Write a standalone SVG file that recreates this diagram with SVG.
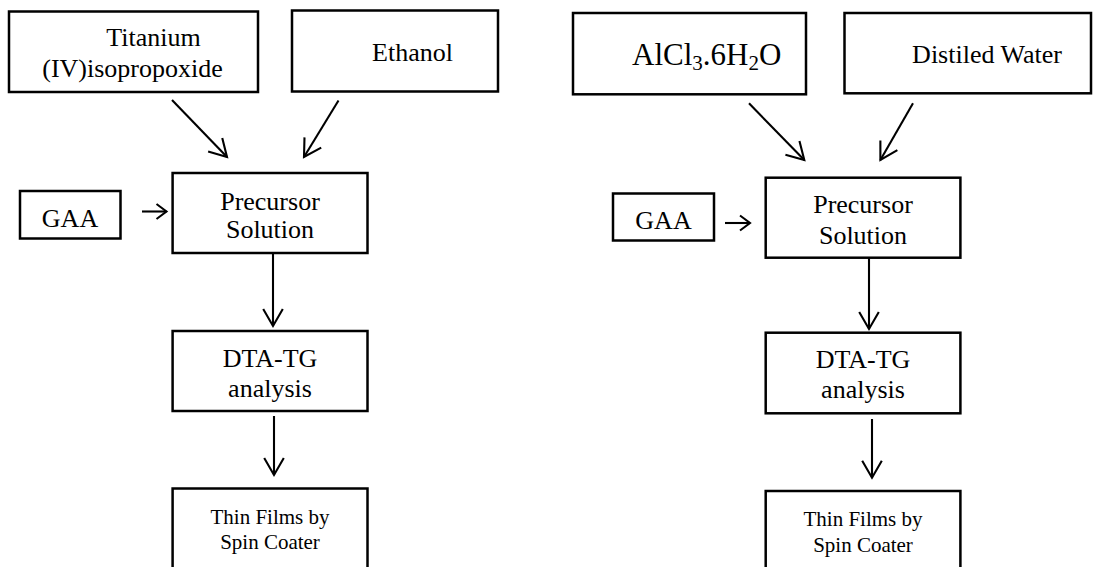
<svg xmlns="http://www.w3.org/2000/svg" width="1093" height="567" viewBox="0 0 1093 567">
<defs>
<style>
.box{fill:#fff;stroke:#000;stroke-width:2.5}
.t{font-family:"Liberation Serif","Times New Roman",serif;font-size:26px;fill:#000;text-anchor:middle}
.s{font-size:21px}
.c{fill:none;stroke:#000;stroke-width:2.1}
.big{marker-end:url(#ah)}
.sm{marker-end:url(#ahs)}
</style>
<marker id="ah" markerUnits="userSpaceOnUse" markerWidth="40" markerHeight="40" viewBox="-20 -20 40 40" refX="0" refY="0" orient="auto" overflow="visible">
<path d="M-17,-9.8 L0,0 L-17,9.8" fill="none" stroke="#000" stroke-width="2.1"/>
</marker>
<marker id="ahs" markerUnits="userSpaceOnUse" markerWidth="30" markerHeight="30" viewBox="-15 -15 30 30" refX="0" refY="0" orient="auto" overflow="visible">
<path d="M-10,-7.5 L0,0 L-10,7.5" fill="none" stroke="#000" stroke-width="2.1"/>
</marker>
</defs>
<rect width="1093" height="567" fill="#fff"/>

<g id="connectors">
<line class="c big" x1="172" y1="100" x2="227" y2="157"/>
<line class="c big" x1="338.5" y1="100.5" x2="304" y2="157"/>
<line class="c sm" x1="142" y1="211.5" x2="166.5" y2="211.5"/>
<line class="c big" x1="273" y1="253" x2="273" y2="326"/>
<line class="c big" x1="274" y1="416" x2="274" y2="475"/>
<line class="c big" x1="749" y1="103.3" x2="804.3" y2="160"/>
<line class="c big" x1="913" y1="103.3" x2="880.4" y2="160"/>
<line class="c sm" x1="725" y1="223" x2="750" y2="223"/>
<line class="c big" x1="869" y1="257.7" x2="869" y2="329"/>
<line class="c big" x1="872" y1="419" x2="872" y2="477.7"/>
</g>

<g id="titanium">
<rect class="box" x="9" y="11.5" width="249" height="80.5"/>
<text class="t" x="153.5" y="46">Titanium</text>
<text class="t" x="132.5" y="77">(IV)isopropoxide</text>
</g>
<g id="ethanol">
<rect class="box" x="292" y="10.5" width="206" height="81"/>
<text class="t" x="412.5" y="61">Ethanol</text>
</g>
<g id="gaa-left">
<rect class="box" x="20" y="191" width="100.5" height="47.5"/>
<text class="t" x="70" y="227">GAA</text>
</g>
<g id="precursor-left">
<rect class="box" x="172.6" y="173" width="194.9" height="80"/>
<text class="t" x="270" y="210">Precursor</text>
<text class="t" x="270" y="238.3">Solution</text>
</g>
<g id="dta-left">
<rect class="box" x="172.6" y="331" width="194.9" height="80"/>
<text class="t" x="270" y="366.7">DTA-TG</text>
<text class="t" x="270" y="396.7">analysis</text>
</g>
<g id="thin-left">
<rect class="box" x="172.6" y="488.5" width="194.9" height="95"/>
<text class="t s" x="270" y="524">Thin Films by</text>
<text class="t s" x="270" y="549.3">Spin Coater</text>
</g>

<g id="alcl3">
<rect class="box" x="573" y="13" width="233" height="81.3"/>
<text class="t" x="706.7" y="65" style="font-size:31px">AlCl<tspan dy="5" font-size="21">3</tspan><tspan dy="-5">.6H</tspan><tspan dy="5" font-size="21">2</tspan><tspan dy="-5">O</tspan></text>
</g>
<g id="water">
<rect class="box" x="844.5" y="13" width="246.5" height="80.3"/>
<text class="t" x="987" y="63">Distiled Water</text>
</g>
<g id="gaa-right">
<rect class="box" x="613" y="193.5" width="101" height="47"/>
<text class="t" x="663.5" y="229">GAA</text>
</g>
<g id="precursor-right">
<rect class="box" x="765.7" y="177.7" width="194.7" height="80"/>
<text class="t" x="863" y="213.3">Precursor</text>
<text class="t" x="863" y="244">Solution</text>
</g>
<g id="dta-right">
<rect class="box" x="765.7" y="332.7" width="194.7" height="80.6"/>
<text class="t" x="863" y="368.3">DTA-TG</text>
<text class="t" x="863" y="398.3">analysis</text>
</g>
<g id="thin-right">
<rect class="box" x="765.7" y="491" width="194.7" height="95"/>
<text class="t s" x="863" y="526">Thin Films by</text>
<text class="t s" x="863" y="552.3">Spin Coater</text>
</g>
</svg>
